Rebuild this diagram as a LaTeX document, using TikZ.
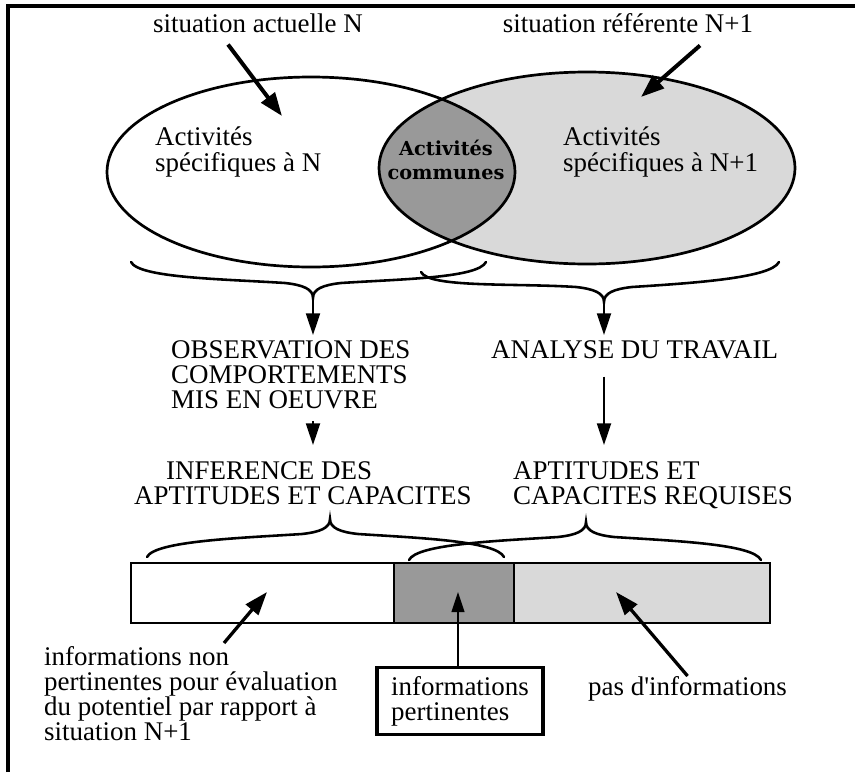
\documentclass[tikz,border=0pt]{standalone}
\usepackage{fontspec}
\setmainfont{Liberation Serif}
\newfontfamily\lensfont{DejaVu Serif}
\usetikzlibrary{arrows.meta,calc}
\colorlet{lightshade}{black!15}
\colorlet{darkshade}{black!40}

% accolade: left end, tip, right end, 1 = tip down / -1 = tip up
\newcommand{\accolade}[4]{%
  \draw[curly] (#1)
    .. controls ($(#1)+(8,16*#4)$) and ($(#2)+(-90,-19*#4)$) .. ($(#2)+(-28,-15*#4)$)
    .. controls ($(#2)+(-10,-13*#4)$) and ($(#2)+(0,-9*#4)$) .. (#2)
    .. controls ($(#2)+(0,-9*#4)$) and ($(#2)+(10,-13*#4)$) .. ($(#2)+(28,-15*#4)$)
    .. controls ($(#2)+(90,-19*#4)$) and ($(#3)+(-8,16*#4)$) .. (#3);}

\begin{document}
\begin{tikzpicture}[x=0.3mm,y=-0.3mm,
    every node/.style={font=\fontsize{23}{21.5}\selectfont,inner sep=0pt},
    label text/.style={align=left,anchor=north west},
    outline/.style={line width=2.3pt},
    curly/.style={line width=2.2pt,line cap=round},
    big arrow/.style={line width=3.4pt,-{Triangle[length=7mm,width=5mm]}},
    flow arrow/.style={line width=1.8pt,-{Triangle[length=6.5mm,width=4.2mm]}},
    pointer/.style={line width=2.8pt,-{Triangle[length=7mm,width=4.8mm]}},
    thin pointer/.style={line width=1.8pt,-{Triangle[length=6mm,width=3.8mm]}}]
    \useasboundingbox (0,0) rectangle (855,772);
    \draw[line width=2.6pt] (8,772) -- (8,6) -- (855,6);

    % the two situations
    \coordinate (lc) at (311,172);
    \coordinate (rc) at (587,168);
    \fill[lightshade] (rc) ellipse [x radius=208, y radius=96];
    \begin{scope}
        \clip (lc) ellipse [x radius=204, y radius=95];
        \fill[darkshade] (rc) ellipse [x radius=208, y radius=96];
    \end{scope}
    \draw[outline] (lc) ellipse [x radius=204, y radius=95];
    \draw[outline] (rc) ellipse [x radius=208, y radius=96];

    \node[label text] (specN) at (155,127) {Activités\\spécifiques à N};
    \node[label text] (specN1) at (563,127) {Activités\\spécifiques à N+1};
    \node[font=\lensfont\bfseries\fontsize{16.5}{20}\selectfont,align=center] (comm) at (446,160) {Activités\\communes};

    \node[anchor=base] (act) at (258,32) {situation actuelle N};
    \node[anchor=base] (ref) at (628,32) {situation référente N+1};
    \coordinate (actIn) at (282,116);
    \coordinate (refIn) at (641,97);
    \draw[big arrow] ($(act.south)+(-30,12)$) -- (actIn);
    \draw[big arrow] ($(ref.south)+(72,13)$) -- (refIn);

    % observation / analyse
    \coordinate (obsL) at (131,262);
    \coordinate (obsTip) at (313,298);
    \coordinate (obsR) at (486,262);
    \coordinate (anaL) at (421,272);
    \coordinate (anaTip) at (604,302);
    \coordinate (anaR) at (779,262);
    \accolade{obsL}{obsTip}{obsR}{1}
    \accolade{anaL}{anaTip}{anaR}{1}

    \node[label text] (obs) at (171,340) {OBSERVATION DES\\COMPORTEMENTS\\MIS EN OEUVRE};
    \node[label text] (ana) at (491,340) {ANALYSE DU TRAVAIL};
    \draw[flow arrow,shorten >=1.5mm] (obsTip) -- (obsTip |- obs.north);
    \draw[flow arrow,shorten >=1.5mm] (anaTip) -- (anaTip |- ana.north);

    \node[label text] (inf) at (134,461) {\hspace*{9.6mm}INFERENCE DES\\APTITUDES ET CAPACITES};
    \node[label text] (req) at (513,461) {APTITUDES ET\\CAPACITES REQUISES};
    \draw[flow arrow,shorten <=3.5mm,shorten >=4.8mm] (obsTip |- obs.south) -- (obsTip |- inf.north);
    \draw[flow arrow,shorten <=5.4mm,shorten >=4.8mm] (anaTip |- ana.south) -- (anaTip |- req.north);

    % information bar
    \coordinate (infL) at (147,557);
    \coordinate (infTip) at (330,519);
    \coordinate (infR) at (504,557);
    \coordinate (reqL) at (409,560);
    \coordinate (reqTip) at (586,522);
    \coordinate (reqR) at (761,560);
    \accolade{infL}{infTip}{infR}{-1}
    \accolade{reqL}{reqTip}{reqR}{-1}

    \fill[lightshade] (514,563) rectangle (770,623);
    \fill[darkshade] (394,563) rectangle (514,623);
    \draw[outline] (131,563) rectangle (770,623);
    \draw[outline] (394,563) -- (394,623) (514,563) -- (514,623);

    \node[label text] (nonpert) at (44,646) {informations non\\pertinentes pour évaluation\\du potentiel par rapport à\\situation N+1};
    \node[draw,line width=3pt,align=left,minimum width=49.8mm,minimum height=20.1mm] (pert) at (460,701) {informations\\pertinentes};
    \node[label text] (pas) at (588,676) {pas d\textquotesingle informations};

    \coordinate (nonTip) at (267,592);
    \coordinate (pertTip) at (458,592);
    \coordinate (pasTip) at (616,592);
    \draw[pointer] ($(nonpert.north west)+(180,-3)$) -- (nonTip);
    \draw[thin pointer] (pert.north -| pertTip) -- (pertTip);
    \draw[pointer] (pas.north) -- (pasTip);
\end{tikzpicture}
\end{document}
